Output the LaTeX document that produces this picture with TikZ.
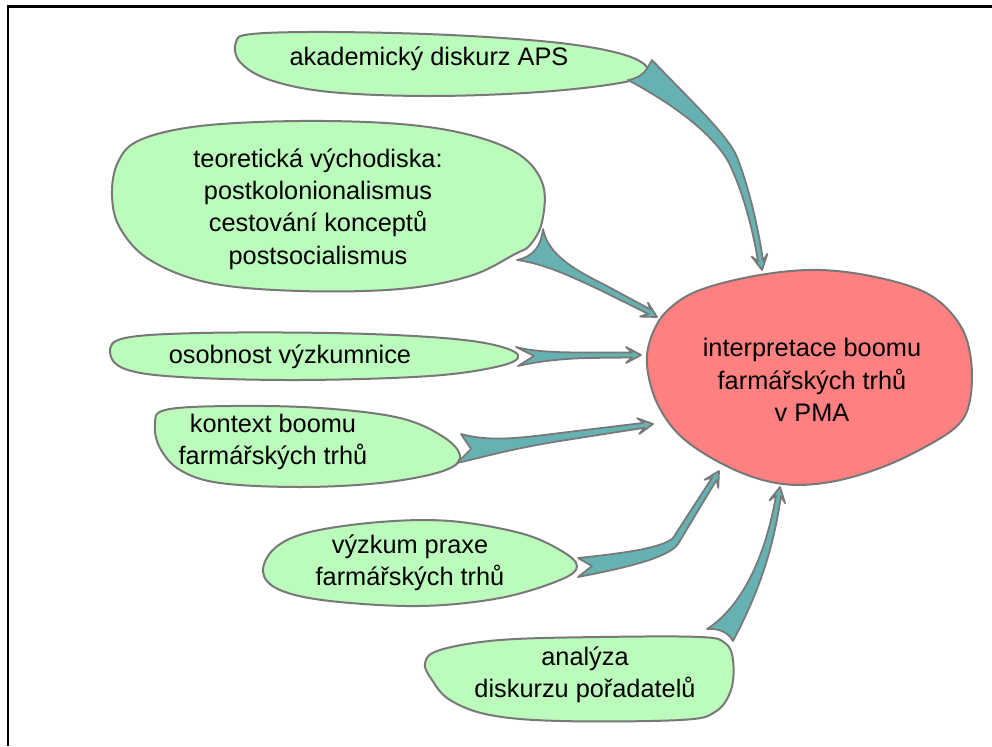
\documentclass[tikz,border=0pt]{standalone}
\usepackage{fontspec}
\setmainfont{Liberation Sans}
\usetikzlibrary{calc}

\definecolor{leaf}{RGB}{187,251,187}
\definecolor{blush}{RGB}{255,128,128}
\definecolor{sea}{RGB}{102,178,178}
\definecolor{rim}{RGB}{120,120,120}

\begin{document}
\begin{tikzpicture}[x=0.75pt,y=-0.75pt,
	blob/.style={draw=rim,line width=1.5pt,fill=leaf},
	hub/.style={draw=rim,line width=1.5pt,fill=blush},
	feed/.style={draw=rim,line width=1.3pt,fill=sea,line join=round},
	words/.style={align=center,inner sep=0pt,font=\fontsize{19}{24.3}\selectfont}]
	\useasboundingbox (0,0) rectangle (992,746);
	\draw[line width=1.9pt] (992,6.5) -- (8,6.5) -- (8,746);

	% bubbles
	\draw[blob] plot[smooth cycle,tension=0.6] coordinates {(236,42) (252,34) (330,32) (450,35) (560,43) (625,55) (648,70) (625,82) (540,92) (430,96) (330,92) (270,80) (240,62)};
	\draw[blob] plot[smooth cycle,tension=0.6] coordinates {(112,195) (118,162) (140,140) (200,126) (300,121) (400,124) (470,135) (520,155) (543,185) (542,222) (530,245) (515,254) (470,276) (400,289) (300,291) (210,283) (150,260) (120,228)};
	\draw[blob] plot[smooth cycle,tension=0.6] coordinates {(110,352) (125,338) (200,333) (330,333) (430,337) (490,344) (518,355) (500,366) (430,376) (300,380) (180,377) (125,369)};
	\draw[blob] plot[smooth cycle,tension=0.6] coordinates {(155,425) (165,410) (230,406) (320,408) (400,418) (445,438) (460,458) (440,472) (380,483) (300,487) (220,483) (180,470) (160,448)};
	\draw[blob] plot[smooth cycle,tension=0.6] coordinates {(263,572) (275,548) (310,532) (380,522) (450,521) (520,533) (560,550) (577,566) (560,580) (500,598) (420,606) (330,601) (280,590)};
	\draw[blob] plot[smooth cycle,tension=0.6] coordinates {(425,663) (440,650) (500,640) (600,637) (700,637) (725,643) (733,660) (731,690) (715,712) (680,720) (560,721) (490,715) (450,700) (432,680)};
	\draw[hub] plot[smooth cycle,tension=0.6] coordinates {(647,365) (652,335) (668,310) (700,290) (760,275) (820,270) (880,278) (930,295) (960,325) (971,360) (970,400) (958,425) (925,447) (880,468) (830,482) (783,484) (735,470) (685,440) (658,405)};

	\node[words] (aps) at (429,59) {akademický diskurz APS};
	\node[words] (theory) at (318,209) {teoretická východiska:\\postkolonionalismus\\cestování konceptů\\postsocialismus};
	\node[words] (person) at (290,357) {osobnost výzkumnice};
	\node[words] (context) at (273,442) {kontext boomu\\farmářských trhů};
	\node[words] (practice) at (410,563) {výzkum praxe\\farmářských trhů};
	\node[words] (organisers) at (585,675) {analýza\\diskurzu pořadatelů};
	\node[words] (boom) at (812,380) {interpretace boomu\\farmářských trhů\\v PMA};

	% arrows into the hub
	\coordinate (apsTip) at (762,270);
	\coordinate (theoryTip) at (657,317);
	\coordinate (personTip) at (641,355);
	\coordinate (contextTip) at (653,424);
	\coordinate (practiceTip) at (719,471);
	\coordinate (organisersTip) at (780,487);
	\draw[feed] (652,60) .. controls (690,100) and (728,135) .. (737,157) .. controls (748,185) and (758,225) .. (763,260.7) -- (767.4,253.9) -- (apsTip) -- (751.6,256.5) -- (758,261.5) .. controls (752,225) and (742,190) .. (729,163) .. controls (715,137) and (680,108) .. (628,80) .. controls (645,77) and (647,68) .. (652,60) -- cycle;
	\draw[feed] (543,229) .. controls (548,255) and (575,270) .. (605,285) -- (650.4,309.4) -- (647.9,302.6) -- (theoryTip) -- (640.1,316.6) -- (648,313.8) -- (600,290) .. controls (570,276) and (545,264) .. (517,260) .. controls (535,256) and (541,245) .. (543,229) -- cycle;
	\draw[feed] (516,347) .. controls (535,352) and (560,352.5) .. (590,352.5) -- (632,352.5) -- (626,347) -- (personTip) -- (626,363) -- (632,357.5) -- (590,358) .. controls (560,358.5) and (535,362) .. (518,366) -- (534,356) -- cycle;
	\draw[feed] (461,434) .. controls (490,442) and (520,438) .. (560,433) -- (643.8,422.8) -- (637.1,418.2) -- (contextTip) -- (639.3,434) -- (644.4,427.8) -- (560,441) .. controls (510,449) and (480,458) .. (457,463) -- (471,449) -- cycle;
	\draw[feed] (578,558) .. controls (625,553) and (662,548) .. (673,538) -- (712.3,477.4) -- (704.5,479.8) -- (practiceTip) -- (718.3,488) -- (716.5,480) -- (678,544) .. controls (668,558) and (625,568) .. (578,577) -- (592,566) -- cycle;
	\draw[feed] (707,629) .. controls (740,608) and (765,560) .. (776,495.4) -- (769.5,500.3) -- (organisersTip) -- (785.1,503.1) -- (780.9,496.3) .. controls (772,560) and (752,605) .. (733,641) .. controls (728,632) and (718,628) .. (707,629) -- cycle;
\end{tikzpicture}
\end{document}
